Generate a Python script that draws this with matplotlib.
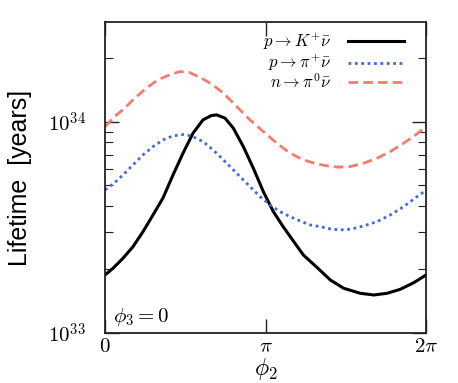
import numpy as np
import matplotlib
matplotlib.use("Agg")
import matplotlib.pyplot as plt
from matplotlib.ticker import FixedLocator, LogLocator, NullFormatter, FixedFormatter

plt.rcParams['mathtext.fontset'] = 'cm'

# --- data (phi in units of pi, lifetime in units of 1e33 years) ---
k_phi = [0.0, 0.0498, 0.1121, 0.1745, 0.2368, 0.2991, 0.3614, 0.4237, 0.4860, 0.5483,
         0.6106, 0.6623, 0.6959, 0.7477, 0.7994, 0.8617, 0.9240, 0.9863, 1.0486,
         1.1109, 1.1732, 1.2355, 1.3209, 1.4037, 1.4872, 1.5907, 1.6741, 1.7570,
         1.8399, 1.9234, 2.0]
k_tau = [1.883, 2.026, 2.260, 2.565, 3.021, 3.624, 4.363, 5.608, 7.107, 8.840,
         10.22, 10.71, 10.79, 10.41, 9.336, 7.637, 6.034, 4.674, 3.757,
         3.180, 2.729, 2.342, 2.044, 1.783, 1.629, 1.542, 1.514, 1.542,
         1.611, 1.731, 1.883]

pi_phi = [0.0, 0.0604, 0.1121, 0.1639, 0.2368, 0.2991, 0.3614, 0.4237, 0.4860, 0.5377,
          0.6106, 0.6729, 0.7165, 0.7788, 0.8411, 0.9034, 0.9657, 1.0280, 1.0903,
          1.1526, 1.2150, 1.2773, 1.3396, 1.4037, 1.4660, 1.5283, 1.6118, 1.6947,
          1.7776, 1.8611, 1.9439, 2.0]
pi_tau = [4.761, 5.156, 5.608, 6.140, 6.976, 7.637, 8.217, 8.583, 8.706, 8.583,
          8.066, 7.367, 6.848, 6.140, 5.505, 4.936, 4.426, 4.042, 3.757,
          3.558, 3.395, 3.250, 3.190, 3.111, 3.077, 3.101, 3.214, 3.369,
          3.624, 3.968, 4.426, 4.74]

n_phi = [0.0, 0.0604, 0.1227, 0.1850, 0.2573, 0.3302, 0.4031, 0.4654, 0.5277, 0.6000,
         0.6623, 0.7371, 0.8206, 0.9034, 0.9863, 1.0698, 1.1526, 1.2355, 1.3209,
         1.3832, 1.4561, 1.5283, 1.6118, 1.6947, 1.7776, 1.8611, 1.9439, 2.0]
n_tau = [9.500, 10.60, 11.62, 12.95, 14.44, 15.81, 16.70, 17.31, 17.12, 16.11,
         15.14, 13.68, 11.81, 10.22, 8.996, 7.926, 7.107, 6.606, 6.323,
         6.187, 6.100, 6.140, 6.372, 6.729, 7.232, 7.926, 8.773, 9.500]

labels = [r'$p \rightarrow K^{+}\bar{\nu}$', r'$p \rightarrow \pi^{+}\bar{\nu}$',
          r'$n \rightarrow \pi^{0}\bar{\nu}$']
xtick_labels = [r'$0$', r'$\pi$', r'$2\pi$']
ytick_values = [1e33, 1e34]
ytick_labels = [r'$10^{33}$', r'$10^{34}$']

fig = plt.figure(figsize=(4.58, 3.83), dpi=100)
ax = fig.add_axes([0.2293, 0.1305, 0.7009, 0.812])

ax.plot(np.array(k_phi) * np.pi, np.array(k_tau) * 1e33, color='black', lw=2.2,
        label=labels[0])
ax.plot(np.array(pi_phi) * np.pi, np.array(pi_tau) * 1e33, color='#4169e1', lw=2.0,
        linestyle=(0, (1, 1.3)), label=labels[1])
ax.plot(np.array(n_phi) * np.pi, np.array(n_tau) * 1e33, color='#f47c6e', lw=2.0,
        linestyle=(0, (3.5, 1.8)), label=labels[2])

ax.set_yscale('log')
ax.set_xlim(0, 2 * np.pi)
ax.set_ylim(1e33, 2.97e34)

ax.xaxis.set_major_locator(FixedLocator([0, np.pi, 2 * np.pi]))
ax.xaxis.set_major_formatter(FixedFormatter(xtick_labels))
ax.yaxis.set_major_locator(FixedLocator(ytick_values))
ax.yaxis.set_major_formatter(FixedFormatter(ytick_labels))
ax.yaxis.set_minor_locator(LogLocator(base=10, subs=np.arange(2, 10)))
ax.yaxis.set_minor_formatter(NullFormatter())

ax.tick_params(which='both', direction='in', top=True, right=True,
               labelsize=15, colors='#222222', labelcolor='black')
ax.tick_params(axis='x', pad=2)
ax.tick_params(axis='y', pad=14)
ax.tick_params(which='major', length=10, width=1.0)
ax.tick_params(which='minor', length=6, width=0.8)

for s in ax.spines.values():
    s.set_linewidth(1.3)
    s.set_color('#222222')

ax.set_xlabel(r'$\phi_2$', fontsize=17, labelpad=0)
ax.set_ylabel('Lifetime  [years]', fontsize=18, family='Liberation Sans')
ax.yaxis.set_label_coords(-0.228, 0.5)

ax.text(0.025, 0.015, r'$\phi_3 = 0$', transform=ax.transAxes, fontsize=15,
        ha='left', va='bottom')

leg = ax.legend(loc='upper right', bbox_to_anchor=(1.0, 1.04), frameon=False,
                markerfirst=False, fontsize=12, handlelength=3.4, labelspacing=0.0,
                borderaxespad=0.9, handletextpad=1.0)
for t in leg.get_texts():
    t.set_ha('right')

fig.savefig('out.png', dpi=100)
